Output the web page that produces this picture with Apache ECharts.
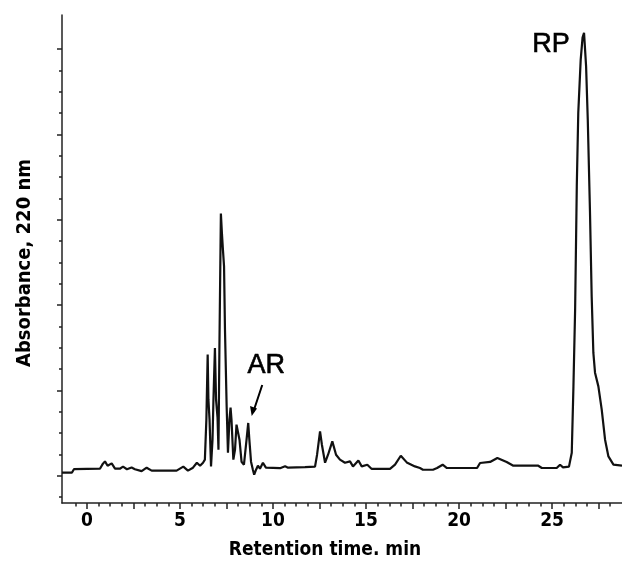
<!DOCTYPE html>
<html>
<head>
<meta charset="utf-8">
<script src="https://cdn.jsdelivr.net/npm/echarts@6/dist/echarts.min.js"></script>
<style>
html,body{margin:0;padding:0;background:#fff;}
#c{width:622px;height:570px;}
</style>
</head>
<body>
<div id="c"></div>
<script>
// Chromatogram trace: [retention time (min), absorbance (arbitrary units)]
const trace = [
 [-1.34,0.035],[-0.81,0.035],[-0.70,0.076],[0.70,0.082],[0.86,0.141],[0.97,0.168],[1.11,0.117],[1.33,0.144],
 [1.51,0.082],[1.77,0.082],[1.94,0.106],[2.15,0.076],[2.40,0.097],[2.58,0.076],[2.94,0.053],[3.21,0.094],
 [3.48,0.059],[4.82,0.059],[5.18,0.106],[5.43,0.059],[5.70,0.094],[5.91,0.152],[6.08,0.117],[6.24,0.152],
 [6.34,0.188],[6.42,0.657],[6.49,1.419],[6.53,0.891],[6.59,0.657],[6.67,0.109],[6.75,0.422],[6.80,0.891],
 [6.88,1.497],[6.94,0.891],[7.02,0.680],[7.07,0.305],[7.12,1.477],[7.20,3.072],[7.26,2.825],[7.31,2.650],
 [7.37,2.454],[7.42,1.712],[7.51,0.812],[7.58,0.270],[7.66,0.657],[7.72,0.797],[7.77,0.657],[7.87,0.188],
 [7.96,0.305],[8.04,0.598],[8.13,0.610],[8.20,0.422],[8.31,0.164],[8.44,0.129],[8.58,0.422],[8.67,0.618],
 [8.73,0.422],[8.82,0.164],[8.92,0.070],[8.99,0.012],[9.09,0.070],[9.19,0.117],[9.30,0.082],[9.46,0.152],
 [9.62,0.094],[10.38,0.088],[10.65,0.111],[10.81,0.094],[10.91,0.106],[11.72,0.100],[12.26,0.106],[12.37,0.246],
 [12.53,0.519],[12.63,0.363],[12.80,0.152],[12.96,0.246],[13.19,0.402],[13.39,0.246],[13.60,0.188],[13.87,0.152],
 [14.14,0.168],[14.30,0.109],[14.59,0.179],[14.77,0.109],[15.07,0.129],[15.31,0.079],[16.29,0.079],[16.56,0.129],
 [16.87,0.234],[17.19,0.156],[17.63,0.109],[17.90,0.090],[18.06,0.070],[18.60,0.070],[18.82,0.090],[19.12,0.129],
 [19.35,0.090],[20.97,0.090],[21.13,0.149],[21.67,0.161],[22.06,0.208],[22.56,0.161],[22.92,0.117],[24.26,0.117],
 [24.45,0.090],[25.25,0.090],[25.43,0.129],[25.59,0.097],[25.91,0.106],[26.06,0.270],[26.15,1.047],[26.24,1.946],
 [26.33,3.392],[26.41,4.256],[26.54,4.877],[26.64,5.135],[26.72,5.190],[26.83,4.798],[26.92,4.174],[27.04,3.083],
 [27.13,2.102],[27.22,1.442],[27.31,1.208],[27.49,1.047],[27.67,0.774],[27.85,0.422],[28.03,0.226],[28.30,0.129],
 [28.76,0.117]
];
// Annotated peaks
const peakAR = [8.67, 0.618];
const peakRP = [26.72, 5.190];
// Axis tick values
const xLabels = [0, 5, 10, 15, 20, 25];
const xMajorTicks = [0, 2.5, 5, 7.5, 10, 12.5, 15, 17.5, 20, 22.5, 25, 27.5];
const xMinorTicks = [];
for (let k = -1; k <= 45; k++) { const v = k * 0.625; if (k % 4 !== 0) xMinorTicks.push(v); }
const yMajorTicks = [0, 1, 2, 3, 4, 5];
const yMinorTicks = [];
for (let k = -1; k <= 19; k++) { if (k % 4 !== 0) yMinorTicks.push(k * 0.25); }

const X_MIN = -1.34, X_MAX = 28.76, Y_MIN = -0.32, Y_MAX = 5.40;
const narrow = '"Liberation Sans Narrow","DejaVu Sans Condensed","Arial Narrow",sans-serif';
const axisColor = '#222';

const chart = echarts.init(document.getElementById('c'));
chart.setOption({
  animation: false,
  backgroundColor: '#fff',
  grid: { left: 62, right: 0, top: 15, bottom: 67, containLabel: false },
  xAxis: [
    {
      type: 'value', min: X_MIN, max: X_MAX, position: 'bottom',
      axisLine: { show: true, onZero: false, lineStyle: { color: axisColor, width: 1.5 } },
      axisTick: { show: true, customValues: xMajorTicks, length: 6, lineStyle: { color: axisColor, width: 1.5 } },
      axisLabel: { show: true, customValues: xLabels, margin: 9, color: '#000', fontFamily: narrow, fontWeight: 'bold', fontSize: 19 },
      splitLine: { show: false },
      name: 'Retention time. min', nameLocation: 'middle', nameGap: 38,
      nameTextStyle: { color: '#000', fontFamily: narrow, fontWeight: 'bold', fontSize: 19, padding: [0, 34, 0, 0] }
    },
    {
      type: 'value', min: X_MIN, max: X_MAX, position: 'bottom',
      axisLine: { show: false, onZero: false },
      axisTick: { show: true, customValues: xMinorTicks, length: 3.5, lineStyle: { color: axisColor, width: 1.5 } },
      axisLabel: { show: false }, splitLine: { show: false }
    }
  ],
  yAxis: [
    {
      type: 'value', min: Y_MIN, max: Y_MAX, position: 'left',
      axisLine: { show: true, onZero: false, lineStyle: { color: axisColor, width: 1.5 } },
      axisTick: { show: true, customValues: yMajorTicks, length: 5, lineStyle: { color: axisColor, width: 1.5 } },
      axisLabel: { show: false }, splitLine: { show: false },
      name: 'Absorbance, 220 nm', nameLocation: 'middle', nameGap: 27, nameRotate: 90,
      nameTextStyle: { color: '#000', fontFamily: narrow, fontWeight: 'bold', fontSize: 20, padding: [0, 8, 0, 0] }
    },
    {
      type: 'value', min: Y_MIN, max: Y_MAX, position: 'left',
      axisLine: { show: false, onZero: false },
      axisTick: { show: true, customValues: yMinorTicks, length: 3, lineStyle: { color: axisColor, width: 1.5 } },
      axisLabel: { show: false }, splitLine: { show: false }
    }
  ],
  series: [{
    type: 'line', data: trace, xAxisIndex: 0, yAxisIndex: 0,
    showSymbol: false, smooth: false,
    lineStyle: { color: '#111', width: 2.2 }
  }]
});

// Annotations placed relative to the peaks' pixel positions
const pAR = chart.convertToPixel({ gridIndex: 0 }, peakAR);
const pRP = chart.convertToPixel({ gridIndex: 0 }, peakRP);
const noteFont = '27px "Liberation Sans", Arial, sans-serif';
chart.setOption({
  graphic: [
    { type: 'text', x: pAR[0] + 18, y: pAR[1] - 57,
      style: { text: 'AR', fill: '#000', font: noteFont, stroke: '#000', lineWidth: 0.6, textAlign: 'center', textVerticalAlign: 'middle' } },
    { type: 'line', shape: { x1: pAR[0] + 14, y1: pAR[1] - 38, x2: pAR[0] + 5, y2: pAR[1] - 11 },
      style: { stroke: '#000', lineWidth: 2 } },
    { type: 'polygon', shape: { points: [[pAR[0] + 3.5, pAR[1] - 7], [pAR[0] + 1.8, pAR[1] - 17], [pAR[0] + 8.8, pAR[1] - 14.5]] },
      style: { fill: '#000' } },
    { type: 'text', x: pRP[0] - 33, y: pRP[1] + 12,
      style: { text: 'RP', fill: '#000', font: noteFont, stroke: '#000', lineWidth: 0.6, textAlign: 'center', textVerticalAlign: 'middle' } }
  ]
});
</script>
</body>
</html>
